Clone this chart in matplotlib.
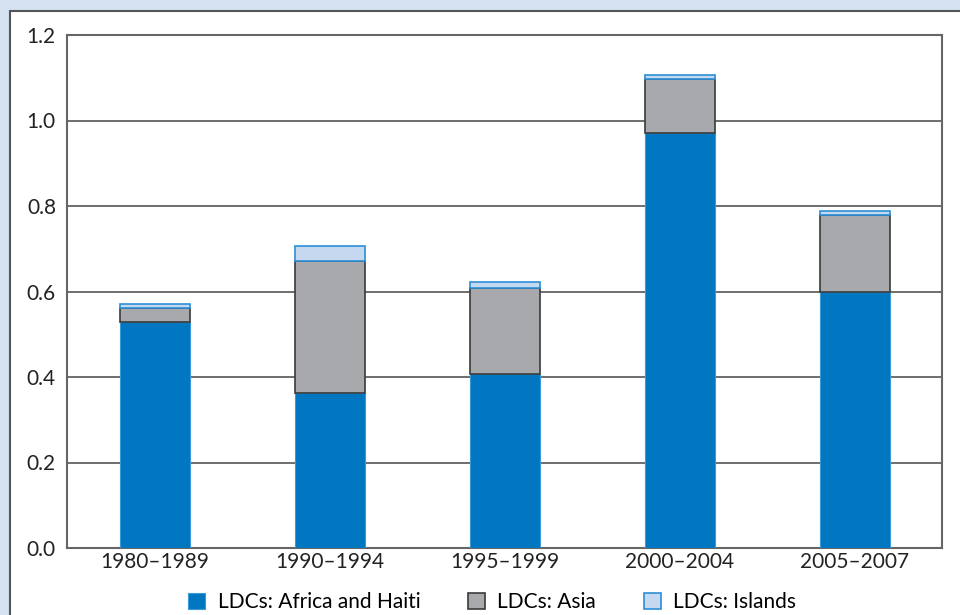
import matplotlib
matplotlib.use('Agg')
import matplotlib.pyplot as plt
import numpy as np

periods = ['1980–1989', '1990–1994', '1995–1999', '2000–2004', '2005–2007']
africa = [0.529, 0.363, 0.407, 0.971, 0.599]
asia = [0.032, 0.308, 0.201, 0.126, 0.180]
islands = [0.010, 0.035, 0.014, 0.009, 0.009]

plt.rcParams['font.family'] = ['Lato', 'DejaVu Sans']

fig = plt.figure(figsize=(9.6, 6.15), dpi=100)
fig.patch.set_facecolor('#d5e2f2')
# white panel with dark border
panel = plt.Rectangle((10 / 960, -0.05), 1.0, 1 - 11 / 615 + 0.05, transform=fig.transFigure,
                      facecolor='white', edgecolor='#555555', linewidth=1.5, zorder=-10)
fig.patches.append(panel)

ax = fig.add_axes([67 / 960, 1 - 548 / 615, 875 / 960, 513 / 615])
ax.set_zorder(1)
x = np.arange(len(periods))
w = 0.4
ax.bar(x, africa, w, color='#0077c0', edgecolor='#3a9ad9', linewidth=0.8,
       label='LDCs: Africa and Haiti', zorder=3)
b1 = np.array(africa)
ax.bar(x, asia, w, bottom=b1, color='#a8a9ad', edgecolor='#3a3a3a', linewidth=1.2,
       label='LDCs: Asia', zorder=3)
b2 = b1 + np.array(asia)
ax.bar(x, islands, w, bottom=b2, color='#c6d8ef', edgecolor='#2b8fd6', linewidth=1.2,
       label='LDCs: Islands', zorder=3)

ax.set_xlim(-0.5, 4.5)
ax.set_ylim(0, 1.2)
ax.set_yticks([0, 0.2, 0.4, 0.6, 0.8, 1.0, 1.2])
ax.set_yticklabels(['0.0', '0.2', '0.4', '0.6', '0.8', '1.0', '1.2'])
ax.set_xticks(x)
ax.set_xticklabels(periods)
ax.tick_params(axis='y', length=0, labelsize=15, colors='#222222', pad=8)
ax.tick_params(axis='x', length=0, labelsize=15, colors='#222222', pad=3)
ax.yaxis.grid(True, color='#555555', linewidth=1.2, zorder=1)
ax.set_axisbelow(True)
for s in ax.spines.values():
    s.set_color('#666666')
    s.set_linewidth(1.5)

ax.legend(loc='upper center', bbox_to_anchor=(0.486, -0.05), ncol=3, frameon=False,
          fontsize=15, handlelength=0.8, handleheight=0.8, columnspacing=2.3,
          handletextpad=0.6)

plt.savefig('out.png', dpi=100, facecolor=fig.get_facecolor())
